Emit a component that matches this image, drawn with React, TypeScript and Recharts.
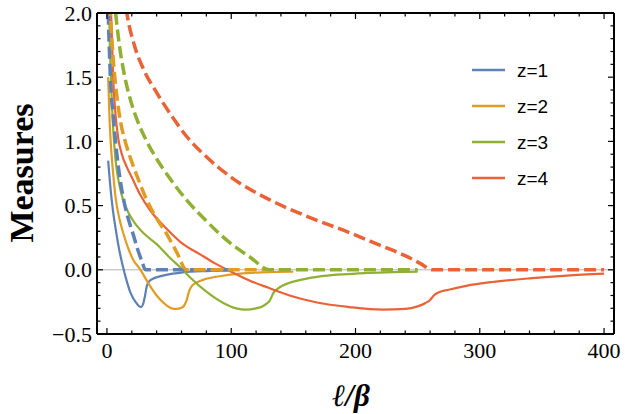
import React from "react";
import { LineChart, Line, XAxis, YAxis, ReferenceLine } from "recharts";

// ---- data ----
const z1Solid: [number, number][] = [[1,0.85],[2,0.73],[3,0.62],[5,0.45],[7,0.32],[10,0.15],[13,0.02],[16,-0.09],[19,-0.18],[23,-0.25],[26,-0.285],[27.5,-0.29],[29,-0.27],[30.5,-0.21],[32,-0.13],[34,-0.09],[37,-0.07],[40,-0.058],[45,-0.045],[53,-0.03],[61,-0.02],[80,-0.01],[100,-0.005]];
const z2Solid: [number, number][] = [[1,1.5],[2,1.2],[3,1.0],[5,0.75],[7,0.56],[10,0.4],[13,0.29],[17,0.17],[21,0.08],[27,0],[33,-0.1],[40,-0.2],[47,-0.27],[52,-0.3],[56,-0.305],[60,-0.295],[62,-0.28],[64,-0.24],[66,-0.17],[68,-0.13],[72,-0.1],[80,-0.07],[92,-0.048],[107,-0.03],[125,-0.02],[150,-0.015]];
const z3Solid: [number, number][] = [[1,2.6],[2,1.9],[3,1.55],[5,1.1],[7,0.85],[10,0.66],[13,0.545],[17,0.45],[22,0.37],[30,0.28],[40,0.2],[50,0.1],[61,0],[67,-0.06],[80,-0.17],[94,-0.26],[104,-0.3],[112,-0.31],[120,-0.3],[125,-0.285],[129,-0.26],[131,-0.24],[134,-0.18],[137,-0.15],[142,-0.12],[155,-0.08],[169,-0.055],[190,-0.035],[209,-0.025],[230,-0.018],[250,-0.015]];
const z4Solid: [number, number][] = [[3,2.1],[4,1.8],[5,1.5],[7,1.2],[9,1.03],[12,0.9],[16,0.8],[20,0.72],[27,0.58],[35,0.46],[48,0.32],[60,0.21],[75,0.12],[87,0.05],[99,-0.01],[115,-0.085],[130,-0.14],[147,-0.2],[169,-0.255],[195,-0.29],[222,-0.31],[240,-0.305],[250,-0.285],[256,-0.26],[260,-0.235],[263,-0.2],[266,-0.18],[275,-0.155],[289,-0.125],[310,-0.095],[342,-0.065],[370,-0.045],[400,-0.03]];

const z1Dash: [number, number][] = [[0.5,2.4],[1,2.05],[2,1.7],[3,1.45],[5,1.2],[8,0.9],[11,0.68],[14,0.52],[18,0.37],[21,0.28],[25,0.15],[28,0.07],[31,0],[100,0]];
const z2Dash: [number, number][] = [[1,2.6],[2,2.15],[3,1.95],[5,1.65],[8,1.35],[11,1.15],[15,0.99],[20,0.84],[25,0.71],[32,0.545],[40,0.4],[48,0.28],[56,0.14],[64,0],[150,0]];
const z3Dash: [number, number][] = [[4,2.4],[6,2.1],[7,2.0],[10,1.75],[14,1.52],[19,1.32],[25,1.15],[31,1.02],[39,0.88],[50,0.72],[64,0.545],[80,0.38],[99,0.21],[115,0.1],[131,0],[250,0]];
const z4Dash: [number, number][] = [[12,2.3],[16,2.0],[22,1.75],[30,1.55],[40,1.38],[52,1.2],[64,1.04],[80,0.88],[100,0.72],[131,0.545],[160,0.42],[195,0.29],[220,0.19],[240,0.11],[252,0.05],[262,0],[400,0]];

const seriesNames = ["z=1", "z=2", "z=3", "z=4"];
const xTicks = [0,20,40,60,80,100,120,140,160,180,200,220,240,260,280,300,320,340,360,380,400];
const xMajor = [0,100,200,300,400];
const yTicks = [-0.5,-0.4,-0.3,-0.2,-0.1,0,0.1,0.2,0.3,0.4,0.5,0.6,0.7,0.8,0.9,1.0,1.1,1.2,1.3,1.4,1.5,1.6,1.7,1.8,1.9,2.0];
const yMajor = [-0.5,0,0.5,1.0,1.5,2.0];

// ---- styles ----
const COLORS = ["#5E81B5", "#E19C24", "#8FB032", "#EB6235"];
const W = 625, H = 414;
const PL = 97, PR = 614, PT = 13, PB = 334;
const SERIF = "'Liberation Serif', 'Times New Roman', serif";
const SANS = "'Liberation Sans', Arial, sans-serif";

const pts = (a: [number, number][]) => a.map(([x, y]) => ({ x, y }));
const isMajorY = (v: number) => yMajor.some((m) => Math.abs(m - v) < 1e-6);
const fmtY = (v: number) => (v < 0 ? "\u2212" + Math.abs(v).toFixed(1) : v.toFixed(1));

const BottomTick = (p: any) => {
  const v = p.payload.value;
  const major = xMajor.includes(v);
  return (
    <g>
      <line x1={p.x} x2={p.x} y1={PB} y2={PB - (major ? 6 : 3.5)} stroke="#000" strokeWidth={1.2} />
      {major && (
        <text x={p.x} y={PB + 24} textAnchor="middle" fontFamily={SERIF} fontSize={22} fill="#000">
          {v}
        </text>
      )}
    </g>
  );
};
const TopTick = (p: any) => {
  const v = p.payload.value;
  const major = xMajor.includes(v);
  return <line x1={p.x} x2={p.x} y1={PT} y2={PT + (major ? 6 : 3.5)} stroke="#000" strokeWidth={1.2} />;
};
const LeftTick = (p: any) => {
  const v = p.payload.value;
  const major = isMajorY(v);
  return (
    <g>
      <line x1={PL} x2={PL + (major ? 6 : 3.5)} y1={p.y} y2={p.y} stroke="#000" strokeWidth={1.2} />
      {major && (
        <text x={PL - 5} y={p.y + 7.5} textAnchor="end" fontFamily={SERIF} fontSize={22} fill="#000">
          {fmtY(v)}
        </text>
      )}
    </g>
  );
};
const RightTick = (p: any) => {
  const v = p.payload.value;
  const major = isMajorY(v);
  return <line x1={PR} x2={PR - (major ? 6 : 3.5)} y1={p.y} y2={p.y} stroke="#000" strokeWidth={1.2} />;
};

const solids = [z1Solid, z2Solid, z3Solid, z4Solid];
const dashes = [z1Dash, z2Dash, z3Dash, z4Dash];

export default function App() {
  return (
    <div style={{ position: "absolute", left: 0, top: 0, width: W, height: H, background: "#fff" }}>
      <LineChart width={W} height={H} margin={{ top: 0, right: 0, bottom: 0, left: 0 }}>
        <XAxis xAxisId="b" orientation="bottom" type="number" dataKey="x" domain={[-8, 408]} ticks={xTicks}
          allowDataOverflow height={H - PB} tickSize={0} tickMargin={0} tickLine={false}
          axisLine={{ stroke: "#000", strokeWidth: 2 }} tick={<BottomTick />} interval={0} />
        <XAxis xAxisId="t" orientation="top" type="number" dataKey="x" domain={[-8, 408]} ticks={xTicks}
          allowDataOverflow height={PT} tickSize={0} tickMargin={0} tickLine={false}
          axisLine={{ stroke: "#000", strokeWidth: 2 }} tick={<TopTick />} interval={0} />
        <YAxis yAxisId="l" orientation="left" type="number" domain={[-0.5, 2]} ticks={yTicks}
          allowDataOverflow width={PL} tickSize={0} tickMargin={0} tickLine={false}
          axisLine={{ stroke: "#000", strokeWidth: 2 }} tick={<LeftTick />} interval={0} />
        <YAxis yAxisId="r" orientation="right" type="number" domain={[-0.5, 2]} ticks={yTicks}
          allowDataOverflow width={W - PR} tickSize={0} tickMargin={0} tickLine={false}
          axisLine={{ stroke: "#000", strokeWidth: 2 }} tick={<RightTick />} interval={0} />
        <ReferenceLine xAxisId="b" yAxisId="l" y={0} stroke="#b4b4b4" strokeWidth={1} />
        {solids.map((s, i) => (
          <Line key={"s" + i} xAxisId="b" yAxisId="l" data={pts(s)} dataKey="y" type="monotone"
            stroke={COLORS[i]} strokeWidth={2.2} dot={false} activeDot={false} isAnimationActive={false} name={seriesNames[i]} />
        ))}
        {dashes.map((s, i) => (
          <Line key={"d" + i} xAxisId="b" yAxisId="l" data={pts(s)} dataKey="y" type="monotone"
            stroke={COLORS[i]} strokeWidth={3.5} strokeDasharray="12 5" dot={false} activeDot={false}
            isAnimationActive={false} legendType="none" />
        ))}
        <text transform="translate(33,173) rotate(-90)" textAnchor="middle" fontFamily={SERIF}
          fontWeight="bold" fontSize={34} fill="#000">Measures</text>
        <text x={351} y={406} textAnchor="middle" fontFamily={SERIF} fontWeight="bold" fontStyle="italic"
          fontSize={31} fill="#000">{"\u2113/\u03B2"}</text>
        {seriesNames.map((n, i) => (
          <g key={n}>
            <line x1={472} x2={505} y1={70 + i * 36} y2={70 + i * 36} stroke={COLORS[i]} strokeWidth={2.5} />
            <text x={517} y={70 + i * 36 + 7} fontFamily={SANS} fontSize={19} fill="#000">{n}</text>
          </g>
        ))}
      </LineChart>
    </div>
  );
}
